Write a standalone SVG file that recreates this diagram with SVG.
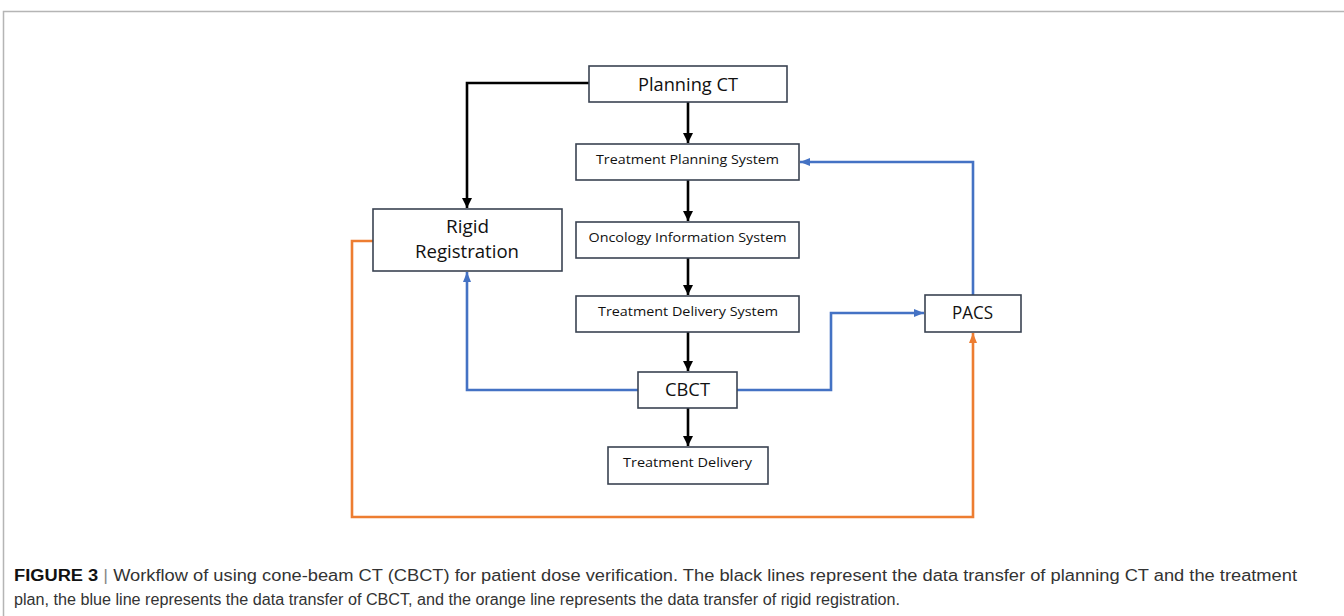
<svg xmlns="http://www.w3.org/2000/svg" width="1344" height="616" viewBox="0 0 1344 616">
<style>
.box{fill:#fff;stroke:#3a4352;stroke-width:1.6}
.lbl{font-family:"Open Sans","Noto Sans",sans-serif;fill:#111;text-anchor:middle}
.big{font-size:19px}
.sm{font-size:13px}
.k{fill:none;stroke:#000;stroke-width:2.6}
.b{fill:none;stroke:#4472c4;stroke-width:2.6}
.o{fill:none;stroke:#ed7d31;stroke-width:2.6}
.cap{font-family:"Liberation Sans",Arial,sans-serif;font-size:16px;fill:#333}
</style>
<defs>
<marker id="ak" markerUnits="userSpaceOnUse" markerWidth="12" markerHeight="12" refX="10" refY="5" orient="auto"><path d="M0,0 L10,5 L0,10 Z" fill="#000"/></marker>
<marker id="ab" markerUnits="userSpaceOnUse" markerWidth="12" markerHeight="12" refX="10" refY="4" orient="auto"><path d="M0,0 L10,4 L0,8 Z" fill="#4472c4"/></marker>
<marker id="ao" markerUnits="userSpaceOnUse" markerWidth="12" markerHeight="12" refX="10" refY="4" orient="auto"><path d="M0,0 L10,4 L0,8 Z" fill="#ed7d31"/></marker>
</defs>
<rect width="1344" height="616" fill="#fff"/>
<path d="M3.5,616 V11.5 H1344" fill="none" stroke="#b5b5b5" stroke-width="1.5"/>
<g id="connectors">
<path class="k" d="M688,102 V143" marker-end="url(#ak)"/>
<path class="k" d="M688,180 V221" marker-end="url(#ak)"/>
<path class="k" d="M688,258 V295" marker-end="url(#ak)"/>
<path class="k" d="M688,332 V371" marker-end="url(#ak)"/>
<path class="k" d="M688,408 V446" marker-end="url(#ak)"/>
<path class="k" d="M589,83 H467 V208" marker-end="url(#ak)"/>
<path class="b" d="M638,390 H467 V272" marker-end="url(#ab)"/>
<path class="b" d="M737,390 H831 V313 H924" marker-end="url(#ab)"/>
<path class="b" d="M973,295 V162 H800" marker-end="url(#ab)"/>
<path class="o" d="M373,241 H352 V517 H973 V333" marker-end="url(#ao)"/>
</g>
<g id="planning-ct"><rect class="box" x="589" y="66" width="198" height="36"/><text class="lbl big" x="688" y="91" textLength="100" lengthAdjust="spacingAndGlyphs">Planning CT</text></g>
<g id="tps"><rect class="box" x="576" y="144" width="223" height="36"/><text class="lbl sm" x="687.5" y="164" textLength="183" lengthAdjust="spacingAndGlyphs">Treatment Planning System</text></g>
<g id="ois"><rect class="box" x="576" y="222" width="223" height="36"/><text class="lbl sm" x="687.5" y="242" textLength="198" lengthAdjust="spacingAndGlyphs">Oncology Information System</text></g>
<g id="tds"><rect class="box" x="576" y="296" width="223" height="36"/><text class="lbl sm" x="688" y="316" textLength="180" lengthAdjust="spacingAndGlyphs">Treatment Delivery System</text></g>
<g id="cbct"><rect class="box" x="638" y="372" width="99" height="36"/><text class="lbl big" x="687.5" y="396" textLength="45" lengthAdjust="spacingAndGlyphs">CBCT</text></g>
<g id="td"><rect class="box" x="608" y="447" width="160" height="37"/><text class="lbl sm" x="687.5" y="467" textLength="129" lengthAdjust="spacingAndGlyphs">Treatment Delivery</text></g>
<g id="rigid"><rect class="box" x="373" y="209" width="189" height="62"/><text class="lbl big" x="467.5" y="233" textLength="43" lengthAdjust="spacingAndGlyphs">Rigid</text><text class="lbl big" x="467" y="258" textLength="104" lengthAdjust="spacingAndGlyphs">Registration</text></g>
<g id="pacs"><rect class="box" x="925" y="295" width="96" height="37"/><text class="lbl big" x="972.5" y="319" textLength="41" lengthAdjust="spacingAndGlyphs">PACS</text></g>
<g id="caption">
<text class="cap" x="14" y="581" textLength="1283" lengthAdjust="spacingAndGlyphs"><tspan font-weight="bold" fill="#111">FIGURE 3</tspan><tspan fill="#888"> | </tspan>Workflow of using cone-beam CT (CBCT) for patient dose verification. The black lines represent the data transfer of planning CT and the treatment</text>
<text class="cap" x="14" y="605" textLength="886" lengthAdjust="spacingAndGlyphs">plan, the blue line represents the data transfer of CBCT, and the orange line represents the data transfer of rigid registration.</text>
</g>
</svg>
